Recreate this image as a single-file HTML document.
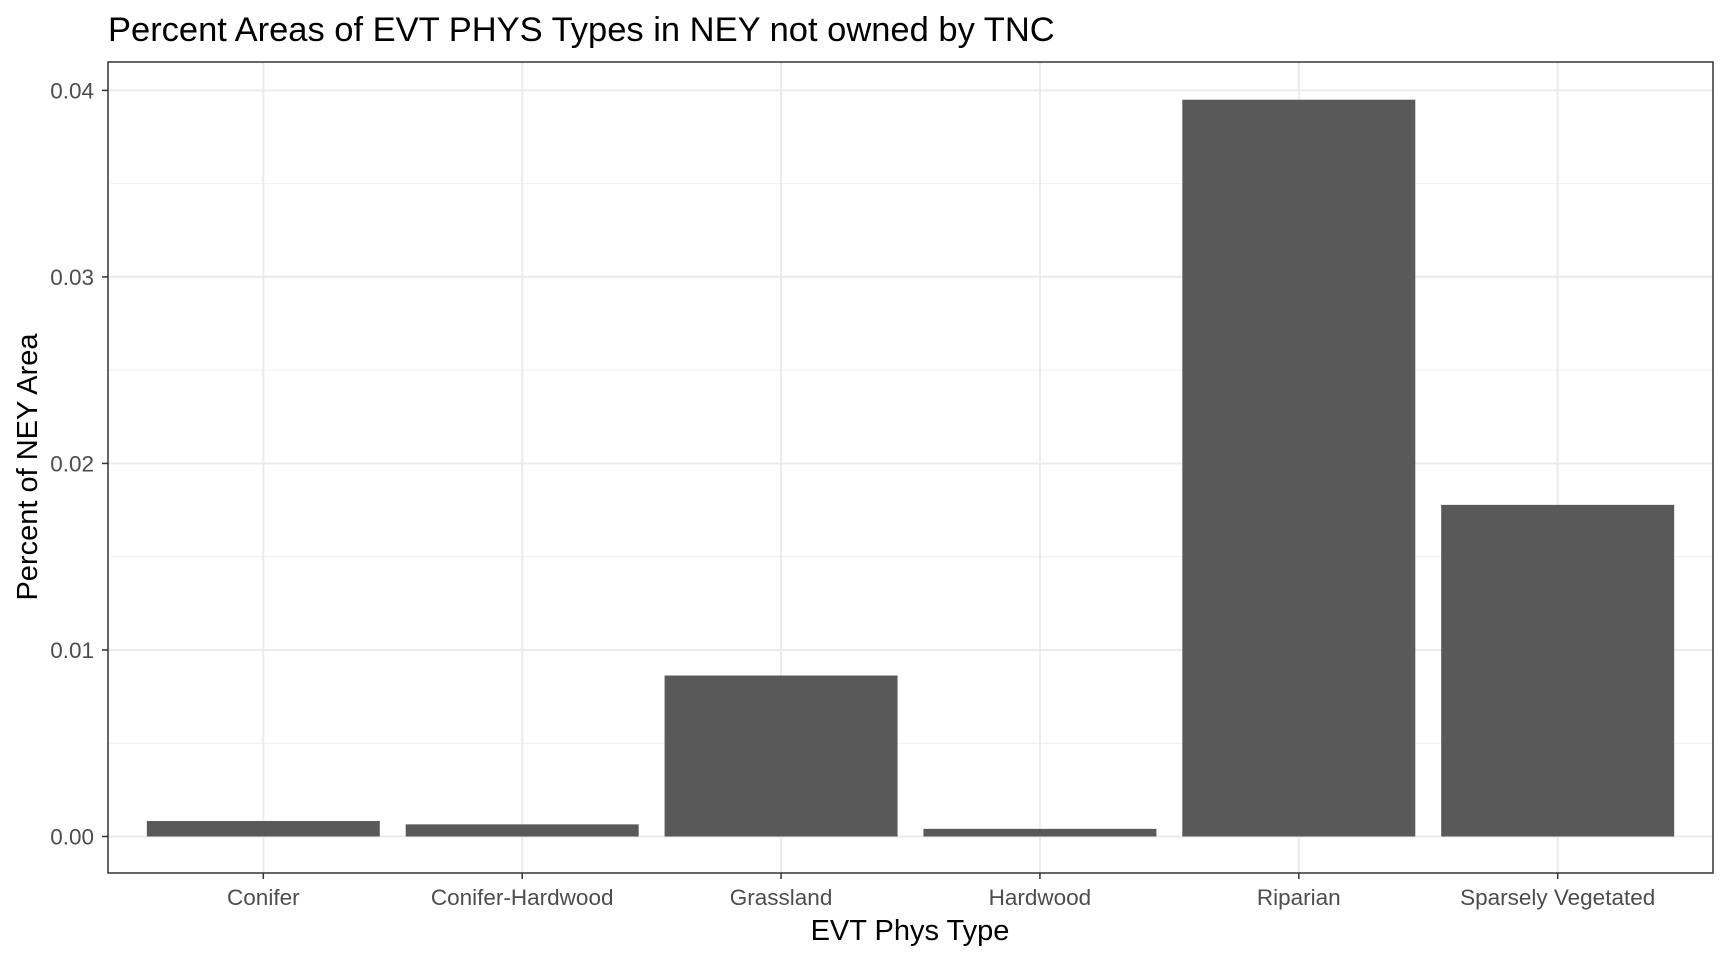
<!DOCTYPE html>
<html><head><meta charset="utf-8"><style>
html,body{margin:0;padding:0;background:#fff;}
svg{display:block;font-family:"Liberation Sans",Arial,sans-serif;}
</style></head><body>
<svg id="chart" width="1728" height="960" viewBox="0 0 1728 960">
<text x="108" y="41" font-size="34.5" fill="#000">Percent Areas of EVT PHYS Types in NEY not owned by TNC</text>
<g id="grid"></g>
<g id="bars"></g>
<rect x="108" y="62" width="1605" height="811" fill="none" stroke="#333" stroke-width="1.5"/>
<g id="axes"></g>
<text x="910" y="940" font-size="29" text-anchor="middle" fill="#000">EVT Phys Type</text>
<text transform="translate(37,467) rotate(-90)" font-size="29" text-anchor="middle" fill="#000">Percent of NEY Area</text>
</svg>
<script>
const categories=["Conifer","Conifer-Hardwood","Grassland","Hardwood","Riparian","Sparsely Vegetated"];
const values=[0.00083,0.00065,0.00863,0.00041,0.0395,0.01778];
const yTicks=[0,0.01,0.02,0.03,0.04];
const yTickLabels=["0.00","0.01","0.02","0.03","0.04"];
const NS="http://www.w3.org/2000/svg";
const pL=108,pR=1713,y0=836.5,y4=90.4;
function y(v){return y0-(y0-y4)*v/0.04;}
const step=(pR-pL)/(categories.length+0.2);
function x(i){return pL+step*(0.6+i);}
function mk(tag,attrs,parent){const e=document.createElementNS(NS,tag);for(const k in attrs)e.setAttribute(k,attrs[k]);parent.appendChild(e);return e;}
const grid=document.getElementById('grid'),bars=document.getElementById('bars'),axes=document.getElementById('axes');
for(let i=0;i<yTicks.length-1;i++){const m=(yTicks[i]+yTicks[i+1])/2;
const l=mk('line',{x1:pL,x2:pR,y1:y(m),y2:y(m),stroke:'#f0f0f0','stroke-width':1},grid);

}
yTicks.forEach((t,i)=>{
const l=mk('line',{x1:pL,x2:pR,y1:y(t),y2:y(t),stroke:'#ebebeb','stroke-width':2},grid);


const tk=mk('line',{x1:pL-6,x2:pL,y1:y(t),y2:y(t),stroke:'#333','stroke-width':1.5},axes);


const tx=mk('text',{x:pL-14,y:y(t)+8,'font-size':22.5,'text-anchor':'end',fill:'#4d4d4d'},axes);
tx.textContent=yTickLabels[i];

});
categories.forEach((c,i)=>{
const cx=x(i);
const g=mk('line',{x1:cx,x2:cx,y1:62,y2:873,stroke:'#ebebeb','stroke-width':2},grid);


const bw=step*0.9;
const r=mk('rect',{x:cx-bw/2,y:y(values[i]),width:bw,height:y(0)-y(values[i]),fill:'#595959'},bars);


const tk=mk('line',{x1:cx,x2:cx,y1:873,y2:879,stroke:'#333','stroke-width':1.5},axes);


const tx=mk('text',{x:cx,y:905,'font-size':22.5,'text-anchor':'middle',fill:'#4d4d4d'},axes);
tx.textContent=c;

});
</script>
</body></html>
